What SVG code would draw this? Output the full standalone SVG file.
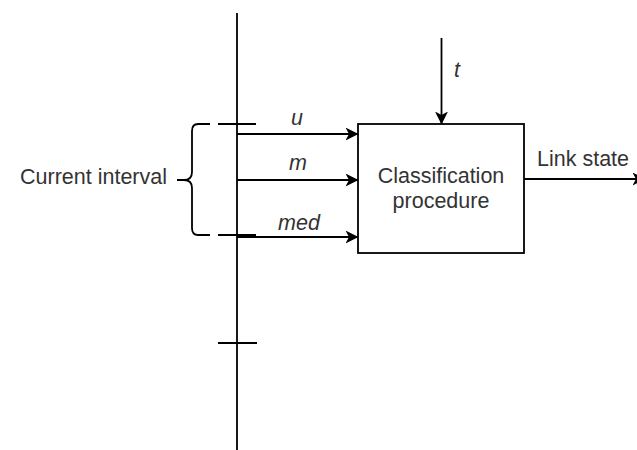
<svg xmlns="http://www.w3.org/2000/svg" width="637" height="450" viewBox="0 0 637 450">
<defs>
<style>
.ln{stroke:#000;stroke-width:1.8;fill:none}
.tx{font-family:"Liberation Sans",Arial,sans-serif;font-size:21.5px;fill:#333}
.it{font-family:"Liberation Sans",Arial,sans-serif;font-size:21.5px;font-style:italic;fill:#333}
</style>
<marker id="ah" viewBox="0 0 13 13" refX="12.5" refY="6.5" markerWidth="13" markerHeight="13" markerUnits="userSpaceOnUse" orient="auto">
<path d="M0,0 L13,6.5 L0,13 L3.5,6.5 Z" fill="#000"/>
</marker>
</defs>
<rect width="637" height="450" fill="#fff"/>
<g id="timeline">
<line class="ln" x1="237" y1="13" x2="237" y2="450"/>
<line class="ln" x1="218" y1="124" x2="256" y2="124"/>
<line class="ln" x1="218" y1="235" x2="256" y2="235"/>
<line class="ln" x1="218" y1="343" x2="257" y2="343"/>
</g>
<g id="interval">
<path class="ln" d="M210,124 L198,124 Q192,124 192,131 L192,172 Q192,180 184,180 L177,180 M184,180 Q192,180 192,188 L192,228 Q192,235 198,235 L210,235"/>
<text class="tx" x="167" y="184" text-anchor="end">Current interval</text>
</g>
<g id="classifier">
<rect class="ln" x="358" y="124" width="166" height="129"/>
<text class="tx" x="441" y="183" text-anchor="middle">Classification</text>
<text class="tx" x="441" y="208" text-anchor="middle">procedure</text>
</g>
<g id="connectors">
<line class="ln" x1="237" y1="134" x2="358" y2="134" marker-end="url(#ah)"/>
<line class="ln" x1="237" y1="180" x2="358" y2="180" marker-end="url(#ah)"/>
<line class="ln" x1="237" y1="237" x2="358" y2="237" marker-end="url(#ah)"/>
<line class="ln" x1="441.5" y1="38" x2="441.5" y2="124" marker-end="url(#ah)"/>
<line class="ln" x1="524" y1="179" x2="645" y2="179" marker-end="url(#ah)"/>
</g>
<g id="labels">
<text class="it" x="297" y="125" text-anchor="middle">u</text>
<text class="it" x="298" y="170" text-anchor="middle">m</text>
<text class="it" x="299" y="230" text-anchor="middle">med</text>
<text class="it" x="457" y="77" text-anchor="middle">t</text>
<text class="tx" x="537" y="166">Link state</text>
</g>
</svg>
